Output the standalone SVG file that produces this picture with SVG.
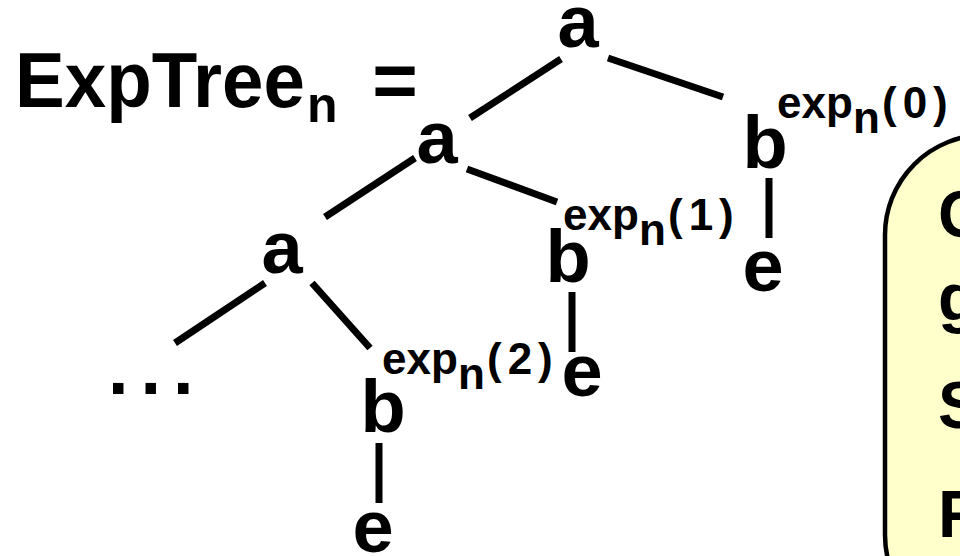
<svg xmlns="http://www.w3.org/2000/svg" width="960" height="556" viewBox="0 0 960 556">
<style>
  .t { font-family: "Liberation Sans", Arial, sans-serif; font-weight: bold; fill: #000; }
  .node { font-size: 74px; text-anchor: middle; }
  .sup { font-size: 44px; }
  .box { font-size: 66px; }
  .edge { stroke: #000; stroke-width: 7; fill: none; }
</style>
<rect width="960" height="556" fill="#fff"/>
<g id="title">
  <text class="t" x="15" y="107" font-size="78" textLength="290" lengthAdjust="spacingAndGlyphs">ExpTree</text>
  <text class="t" x="307" y="122" font-size="50">n</text>
  <text class="t" x="395" y="107" font-size="78" text-anchor="middle">=</text>
</g>
<g id="connectors">
  <line class="edge" x1="470" y1="118" x2="561" y2="59"/>
  <line class="edge" x1="608" y1="58" x2="723" y2="97"/>
  <line class="edge" x1="467" y1="169" x2="557" y2="202"/>
  <line class="edge" x1="325" y1="217" x2="415" y2="158"/>
  <line class="edge" x1="175" y1="343" x2="265" y2="283"/>
  <line class="edge" x1="312" y1="283" x2="370" y2="348"/>
  <line class="edge" x1="769" y1="178" x2="769" y2="238"/>
  <line class="edge" x1="572" y1="292" x2="572" y2="352"/>
  <line class="edge" x1="379" y1="443" x2="379" y2="503"/>
</g>
<g id="node-a0"><text class="t node" x="578" y="47">a</text></g>
<g id="node-a1"><text class="t node" x="437" y="163">a</text></g>
<g id="node-a2"><text class="t node" x="282" y="273">a</text></g>
<g id="node-dots"><text class="t" x="108" y="394" font-size="74" letter-spacing="12">...</text></g>
<g id="node-b0">
  <text class="t node" x="765" y="168">b</text>
  <text class="t sup"><tspan x="777" y="118">exp</tspan><tspan x="853" y="133">n</tspan><tspan x="882" y="118" letter-spacing="6">(0)</tspan></text>
</g>
<g id="node-e0"><text class="t node" x="763" y="291">e</text></g>
<g id="node-b1">
  <text class="t node" x="568" y="282">b</text>
  <text class="t sup"><tspan x="563" y="230">exp</tspan><tspan x="639" y="245">n</tspan><tspan x="668" y="230" letter-spacing="6">(1)</tspan></text>
</g>
<g id="node-e1"><text class="t node" x="582" y="396">e</text></g>
<g id="node-b2">
  <text class="t node" x="383" y="432">b</text>
  <text class="t sup"><tspan x="382" y="374">exp</tspan><tspan x="458" y="389">n</tspan><tspan x="487" y="374" letter-spacing="6">(2)</tspan></text>
</g>
<g id="node-e2"><text class="t node" x="373" y="552">e</text></g>
<g id="note">
  <rect x="885" y="135" width="200" height="500" rx="100" ry="100" fill="#FFFFCC" stroke="#000" stroke-width="4.5"/>
  <text class="t box" x="938" y="237">C</text>
  <text class="t box" x="938" y="320">g</text>
  <text class="t box" x="938" y="428">S</text>
  <text class="t box" x="938" y="537">F</text>
</g>
</svg>
